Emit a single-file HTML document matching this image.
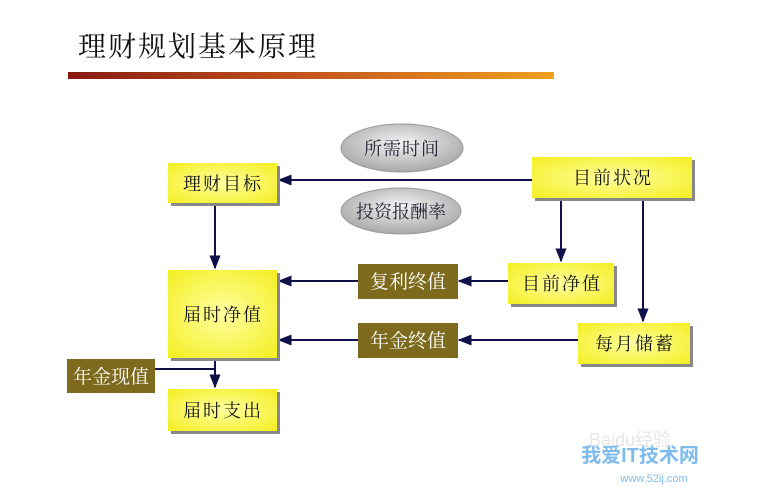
<!DOCTYPE html>
<html><head><meta charset="utf-8"><style>
html,body{margin:0;padding:0;background:#fff;width:764px;height:492px;overflow:hidden}
svg text{font-family:"Liberation Serif","Noto Serif CJK SC",serif}
svg text.wm{font-family:"Liberation Sans","Noto Sans CJK SC",sans-serif}
</style></head><body>
<svg width="764" height="492" viewBox="0 0 764 492" xmlns="http://www.w3.org/2000/svg">
<defs>
<linearGradient id="bar" x1="0" x2="1" y1="0" y2="0">
<stop offset="0" stop-color="#8a1a12"/><stop offset="0.5" stop-color="#c4561c"/><stop offset="1" stop-color="#f0a020"/>
</linearGradient>
<radialGradient id="ell" cx="0.5" cy="0.4" r="0.6">
<stop offset="0" stop-color="#f4f4f4"/><stop offset="1" stop-color="#a8a8a8"/>
</radialGradient>
<radialGradient id="yel" cx="0.5" cy="0.5" r="0.7">
<stop offset="0" stop-color="#ffffa0"/><stop offset="1" stop-color="#f4ee20"/>
</radialGradient>
<marker id="ar" viewBox="0 0 10 10" refX="9" refY="5" markerWidth="7" markerHeight="7" orient="auto">
<path d="M0,1 L10,5 L0,9 z" fill="#10104a"/></marker>
</defs>
<text x="78" y="56" font-size="28" fill="#111" letter-spacing="2">理财规划基本原理</text>
<rect x="68" y="72" width="486" height="7" fill="url(#bar)"/>
<ellipse cx="402" cy="148" rx="61" ry="24" fill="url(#ell)" stroke="#999"/>
<text x="402" y="155" font-size="18" text-anchor="middle" fill="#223" letter-spacing="1">所需时间</text>
<ellipse cx="401" cy="211" rx="60" ry="23" fill="url(#ell)" stroke="#999"/>
<text x="401" y="218" font-size="18" text-anchor="middle" fill="#223">投资报酬率</text>
<g stroke="#10104a" stroke-width="2" fill="none">
<line x1="532" y1="180" x2="279" y2="180" marker-end="url(#ar)"/>
<line x1="215" y1="203" x2="215" y2="268" marker-end="url(#ar)"/>
<line x1="561" y1="198" x2="561" y2="261" marker-end="url(#ar)"/>
<line x1="643" y1="198" x2="643" y2="321" marker-end="url(#ar)"/>
<line x1="508" y1="281" x2="459" y2="281" marker-end="url(#ar)"/>
<line x1="358" y1="281" x2="279" y2="281" marker-end="url(#ar)"/>
<line x1="578" y1="340" x2="459" y2="340" marker-end="url(#ar)"/>
<line x1="358" y1="340" x2="279" y2="340" marker-end="url(#ar)"/>
<line x1="155" y1="369" x2="215" y2="369"/>
<line x1="215" y1="358" x2="215" y2="387" marker-end="url(#ar)"/>
</g>
<g fill="#888"><rect x="171" y="166" width="109" height="40"/><rect x="535" y="160" width="160" height="41"/><rect x="171" y="273" width="109" height="88"/><rect x="511" y="266" width="106" height="41"/><rect x="581" y="326" width="112" height="41"/><rect x="171" y="392" width="109" height="42"/></g>
<g fill="url(#yel)">
<rect x="168" y="163" width="109" height="40"/>
<rect x="532" y="157" width="160" height="41"/>
<rect x="168" y="270" width="109" height="88"/>
<rect x="508" y="263" width="106" height="41"/>
<rect x="578" y="323" width="112" height="41"/>
<rect x="168" y="389" width="109" height="42"/>
</g>
<g fill="#7d6a1c"><rect x="358" y="264" width="100" height="35"/><rect x="358" y="323" width="100" height="35"/><rect x="67" y="359" width="88" height="34"/></g>
<g font-size="18" fill="#111" text-anchor="middle" letter-spacing="2">
<text x="223" y="190">理财目标</text>
<text x="613" y="184">目前状况</text>
<text x="223" y="321">届时净值</text>
<text x="562" y="290">目前净值</text>
<text x="635" y="350">每月储蓄</text>
<text x="223" y="417">届时支出</text>
</g>
<g font-size="19" fill="#fff" text-anchor="middle">
<text x="408" y="288">复利终值</text>
<text x="408" y="347">年金终值</text>
<text x="111" y="383">年金现值</text>
</g>
<g opacity="0.7">
<text class="wm" x="640" y="462" font-size="20" fill="#4aa0e8" text-anchor="middle" font-weight="bold">我爱IT技术网</text>
<text class="wm" x="654" y="482" font-size="11" fill="#4aa0e8" text-anchor="middle">www.52ij.com</text>
<text class="wm" x="630" y="446" font-size="18" fill="#ddd" text-anchor="middle">Baidu经验</text>
</g>
</svg>
</body></html>
